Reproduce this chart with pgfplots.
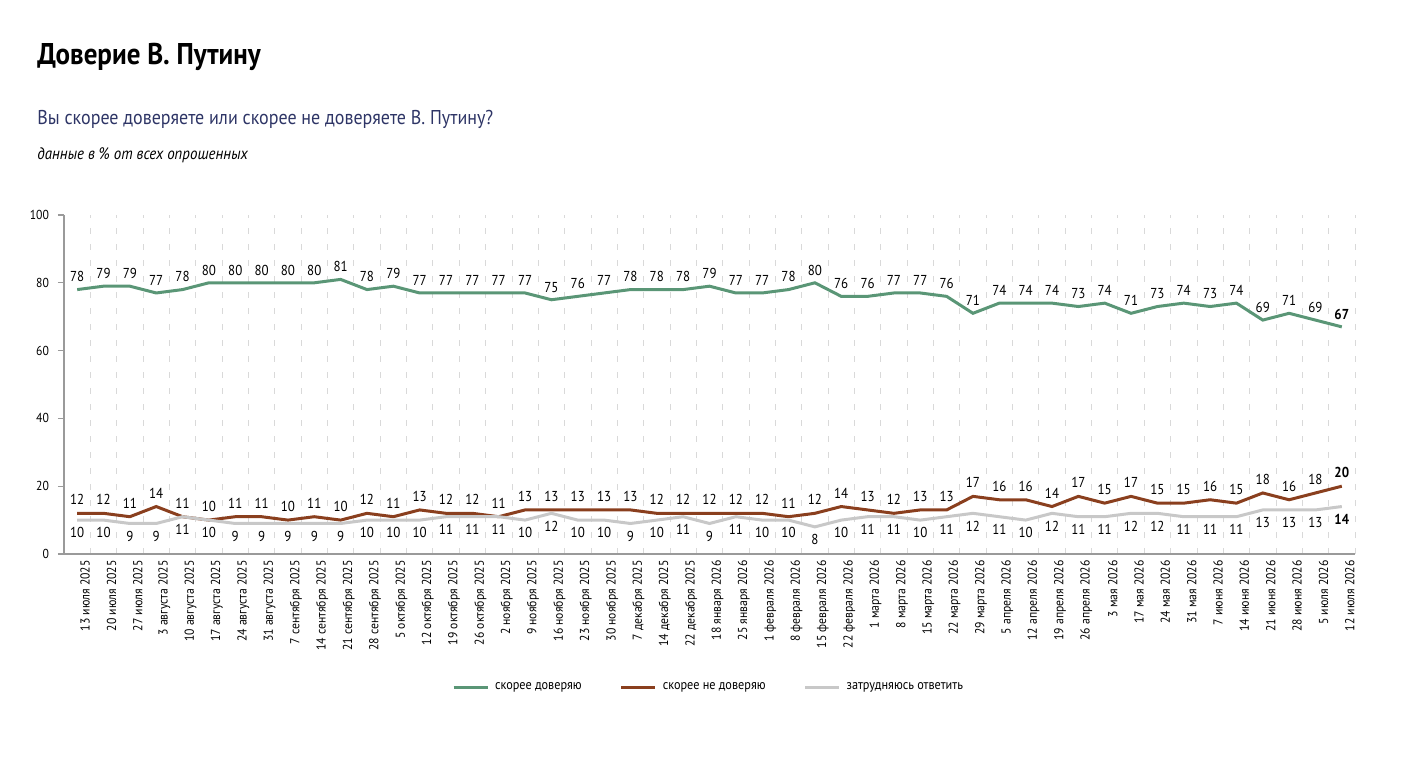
\documentclass[border=0pt]{standalone}
\usepackage{fontspec}
\setmainfont[FakeStretch=0.9]{PT Sans}
\usepackage{pgfplots}
\usepackage{pgfplotstable}
\pgfplotsset{compat=1.18}
\definecolor{cgreen}{HTML}{5A9676}
\definecolor{cbrown}{HTML}{8A3F1E}
\definecolor{cgray}{HTML}{C8C8C8}
\definecolor{cnavy}{HTML}{2E3566}
\definecolor{caxis}{HTML}{9A9A9A}

\pgfplotstableread{
x y l
0 78 78
1 79 79
2 79 79
3 77 77
4 78 78
5 80 80
6 80 80
7 80 80
8 80 80
9 80 80
10 81 81
11 78 78
12 79 79
13 77 77
14 77 77
15 77 77
16 77 77
17 77 77
18 75 75
19 76 76
20 77 77
21 78 78
22 78 78
23 78 78
24 79 79
25 77 77
26 77 77
27 78 78
28 80 80
29 76 76
30 76 76
31 77 77
32 77 77
33 76 76
34 71 71
35 74 74
36 74 74
37 74 74
38 73 73
39 74 74
40 71 71
41 73 73
42 74 74
43 73 73
44 74 74
45 69 69
46 71 71
47 69 69
48 67 \textbf{67}
}\trusttable

\pgfplotstableread{
x y l
0 12 12
1 12 12
2 11 11
3 14 14
4 11 11
5 10 10
6 11 11
7 11 11
8 10 10
9 11 11
10 10 10
11 12 12
12 11 11
13 13 13
14 12 12
15 12 12
16 11 11
17 13 13
18 13 13
19 13 13
20 13 13
21 13 13
22 12 12
23 12 12
24 12 12
25 12 12
26 12 12
27 11 11
28 12 12
29 14 14
30 13 13
31 12 12
32 13 13
33 13 13
34 17 17
35 16 16
36 16 16
37 14 14
38 17 17
39 15 15
40 17 17
41 15 15
42 15 15
43 16 16
44 15 15
45 18 18
46 16 16
47 18 18
48 20 \textbf{20}
}\distrusttable

\pgfplotstableread{
x y l
0 10 10
1 10 10
2 9 9
3 9 9
4 11 11
5 10 10
6 9 9
7 9 9
8 9 9
9 9 9
10 9 9
11 10 10
12 10 10
13 10 10
14 11 11
15 11 11
16 11 11
17 10 10
18 12 12
19 10 10
20 10 10
21 9 9
22 10 10
23 11 11
24 9 9
25 11 11
26 10 10
27 10 10
28 8 8
29 10 10
30 11 11
31 11 11
32 10 10
33 11 11
34 12 12
35 11 11
36 10 10
37 12 12
38 11 11
39 11 11
40 12 12
41 12 12
42 11 11
43 11 11
44 11 11
45 13 13
46 13 13
47 13 13
48 14 \textbf{14}
}\hardtable

\begin{document}
\begin{tikzpicture}[x=1pt,y=1pt]
\begin{axis}[
  at={(32pt,106pt)}, anchor=south west,
  scale only axis, width=645.5pt, height=169.5pt,
  xmin=-0.5, xmax=48.5, ymin=0, ymax=100,
  axis x line*=bottom, axis y line*=left,
  axis line style={caxis, line width=0.8pt},
  ytick={0,20,...,100},
  xtick={0,...,48},
  minor xtick={0.5,1.5,...,48.5},
  xminorgrids=true,
  minor grid style={gray!30, line width=0.4pt, dash pattern=on 3pt off 5pt},
  major x tick style={draw=none},
  minor x tick style={draw=none},
  y tick style={caxis, line width=0.6pt},
  tick align=outside, major tick length=3pt,
  /pgf/number format/assume math mode=true,
  yticklabel style={font=\fontsize{6.5}{8}\selectfont, xshift=-1pt},
  xticklabels={13 июля 2025, 20 июля 2025, 27 июля 2025, 3 августа 2025, 10 августа 2025, 17 августа 2025, 24 августа 2025, 31 августа 2025, 7 сентября 2025, 14 сентября 2025, 21 сентября 2025, 28 сентября 2025, 5 октября 2025, 12 октября 2025, 19 октября 2025, 26 октября 2025, 2 ноября 2025, 9 ноября 2025, 16 ноября 2025, 23 ноября 2025, 30 ноября 2025, 7 декабря 2025, 14 декабря 2025, 22 декабря 2025, 18 января 2026, 25 января 2026, 1 февраля 2026, 8 февраля 2026, 15 февраля 2026, 22 февраля 2026, 1 марта 2026, 8 марта 2026, 15 марта 2026, 22 марта 2026, 29 марта 2026, 5 апреля 2026, 12 апреля 2026, 19 апреля 2026, 26 апреля 2026, 3 мая 2026, 17 мая 2026, 24 мая 2026, 31 мая 2026, 7 июня 2026, 14 июня 2026, 21 июня 2026, 28 июня 2026, 5 июля 2026, 12 июля 2026},
  xticklabel style={rotate=90, anchor=east, font=\fontsize{6.5}{8}\selectfont, inner sep=0pt, yshift=-4pt},
  clip=false,
  legend columns=3,
  legend style={at={(0.5,-0.395)}, anchor=center, draw=none, fill=none,
    font=\fontsize{6.8}{8}\selectfont,
    /tikz/every odd column/.append style={column sep=1pt},
    /tikz/every even column/.append style={column sep=17pt}},
  legend image code/.code={\draw[#1, line width=1.5pt] (0pt,0pt) -- (17pt,0pt);},
  point meta=explicit symbolic,
  nodes near coords,
  every node near coord/.append style={font=\fontsize{7.2}{8}\selectfont, inner sep=1pt, text=black},
]
\addplot[cgreen, line width=1.5pt, no markers, nodes near coords align={above}, every node near coord/.append style={yshift=2pt}] table[x=x, y=y, meta=l] {\trusttable};
\addlegendentry{скорее доверяю}
\addplot[cbrown, line width=1.5pt, no markers, nodes near coords align={above}, every node near coord/.append style={yshift=2.5pt}] table[x=x, y=y, meta=l] {\distrusttable};
\addlegendentry{скорее не доверяю}
\addplot[cgray, line width=1.5pt, no markers, nodes near coords align={below}, every node near coord/.append style={yshift=-2pt}] table[x=x, y=y, meta=l] {\hardtable};
\addlegendentry{затрудняюсь ответить}
\end{axis}
\node[anchor=base west, inner sep=0pt, font=\bfseries\fontsize{15}{18}\selectfont] at (18.5pt,350.5pt) {Доверие В. Путину};
\node[anchor=base west, inner sep=0pt, text=cnavy, font=\fontsize{10}{12}\selectfont] at (18.5pt,320.5pt) {Вы скорее доверяете или скорее не доверяете В. Путину?};
\node[anchor=base west, inner sep=0pt, font=\itshape\fontsize{8.3}{10}\selectfont] at (18.5pt,303pt) {данные в \% от всех опрошенных};
\path (0pt,0pt) rectangle (707pt,383pt);
\end{tikzpicture}
\end{document}
